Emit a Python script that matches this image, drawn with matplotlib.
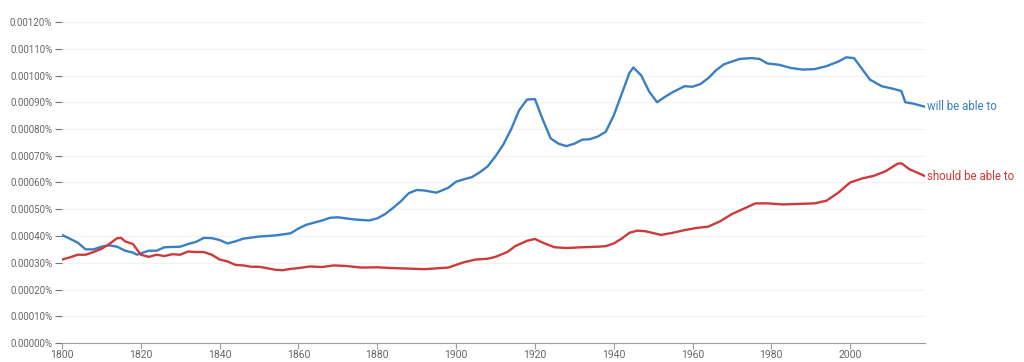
import numpy as np
import matplotlib.pyplot as plt
from matplotlib.ticker import FuncFormatter

plt.rcParams['font.family'] = ['Roboto', 'DejaVu Sans']

will_years = [1800, 1802, 1804, 1806, 1808, 1810, 1812, 1814, 1816, 1818, 1819, 1822, 1824, 1826,
              1830, 1832, 1834, 1836, 1838, 1840, 1842, 1844, 1846, 1850, 1854, 1858, 1860, 1862,
              1866, 1868, 1870, 1874, 1878, 1880, 1882, 1884, 1886, 1888, 1890, 1892, 1895, 1898,
              1900, 1902, 1904, 1906, 1908, 1910, 1912, 1914, 1916, 1918, 1920, 1922, 1924, 1926,
              1928, 1930, 1932, 1934, 1936, 1938, 1940, 1942, 1944, 1945, 1947, 1949, 1951, 1953,
              1955, 1958, 1960, 1962, 1964, 1966, 1968, 1970, 1972, 1975, 1977, 1979, 1982, 1985,
              1988, 1991, 1994, 1997, 1999, 2001, 2003, 2005, 2008, 2011, 2013, 2014, 2016, 2019]
will_vals = [4.04, 3.9, 3.75, 3.5, 3.5, 3.6, 3.65, 3.6, 3.45, 3.38, 3.3, 3.45, 3.45, 3.58,
             3.6, 3.7, 3.78, 3.93, 3.92, 3.85, 3.72, 3.8, 3.9, 3.98, 4.02, 4.1, 4.28, 4.42,
             4.58, 4.68, 4.7, 4.62, 4.58, 4.66, 4.82, 5.05, 5.3, 5.6, 5.72, 5.7, 5.62, 5.8,
             6.03, 6.12, 6.2, 6.38, 6.6, 6.98, 7.42, 8.0, 8.7, 9.1, 9.12, 8.35, 7.65, 7.45,
             7.36, 7.45, 7.6, 7.62, 7.72, 7.9, 8.5, 9.3, 10.1, 10.3, 10.0, 9.4, 9.0, 9.2,
             9.38, 9.6, 9.58, 9.68, 9.9, 10.2, 10.42, 10.52, 10.62, 10.65, 10.62, 10.45, 10.4, 10.28,
             10.22, 10.24, 10.35, 10.52, 10.68, 10.65, 10.25, 9.85, 9.6, 9.5, 9.42, 9.0, 8.95, 8.83]

should_years = [1800, 1802, 1804, 1806, 1808, 1810, 1812, 1814, 1815, 1816, 1818, 1820, 1822, 1824,
                1826, 1828, 1830, 1832, 1834, 1836, 1838, 1840, 1842, 1844, 1846, 1848, 1850, 1852,
                1854, 1856, 1858, 1860, 1863, 1866, 1869, 1872, 1876, 1880, 1884, 1888, 1892, 1896,
                1898, 1900, 1902, 1905, 1908, 1910, 1913, 1915, 1918, 1920, 1922, 1925, 1928, 1932,
                1936, 1938, 1940, 1942, 1944, 1946, 1948, 1952, 1955, 1958, 1961, 1964, 1967, 1970,
                1973, 1976, 1979, 1983, 1987, 1991, 1994, 1997, 2000, 2003, 2006, 2009, 2012, 2013,
                2015, 2019]
should_vals = [3.12, 3.2, 3.3, 3.3, 3.4, 3.52, 3.7, 3.92, 3.93, 3.8, 3.7, 3.3, 3.22, 3.3,
               3.25, 3.32, 3.3, 3.42, 3.4, 3.4, 3.3, 3.12, 3.05, 2.92, 2.9, 2.85, 2.85, 2.8,
               2.74, 2.72, 2.77, 2.8, 2.86, 2.84, 2.9, 2.88, 2.82, 2.83, 2.8, 2.78, 2.76, 2.8,
               2.82, 2.92, 3.02, 3.12, 3.15, 3.22, 3.4, 3.62, 3.82, 3.89, 3.75, 3.58, 3.55, 3.58,
               3.6, 3.62, 3.72, 3.9, 4.12, 4.2, 4.18, 4.04, 4.12, 4.22, 4.3, 4.35, 4.55, 4.82,
               5.02, 5.22, 5.22, 5.18, 5.2, 5.22, 5.32, 5.62, 6.0, 6.15, 6.25, 6.42, 6.7, 6.72,
               6.5, 6.24]

blue = "#3a7fc6"
red = "#cc3b3b"

f = plt.figure(figsize=(10.24, 3.62), dpi=100)
ax = f.add_axes([62/1024, 19/362, (925-62)/1024, 321/362])
ax.plot(will_years, np.array(will_vals) * 1e-4, color=blue, lw=1.7, solid_joinstyle="round")
ax.plot(should_years, np.array(should_vals) * 1e-4, color=red, lw=1.7, solid_joinstyle="round")

ax.set_xlim(1800, 2019)
ax.set_ylim(0, 0.0012)
ax.set_yticks(np.arange(0, 0.00121, 0.0001))
ax.set_xticks(range(1800, 2001, 20))
ax.yaxis.set_major_formatter(FuncFormatter(lambda v, p: "%.5f%%" % v))
ax.grid(axis="y", color="#f2f2f2", lw=0.9)
ax.set_axisbelow(True)
for s in ["top", "right", "left"]:
    ax.spines[s].set_visible(False)
ax.spines["bottom"].set_color("#9e9e9e")
ax.tick_params(axis="y", length=5, color="#757575", labelcolor="#666666", labelsize=7, pad=2, width=0.8)
ax.tick_params(axis="x", length=4, color="#9e9e9e", labelcolor="#666666", labelsize=7.5, pad=1, width=0.8)

ax.text(2019.6, will_vals[-1] * 1e-4, "will be able to", color=blue, fontsize=8.3, va="center", ha="left", clip_on=False)
ax.text(2019.6, should_vals[-1] * 1e-4, "should be able to", color=red, fontsize=8.3, va="center", ha="left", clip_on=False)

plt.savefig("out.png")
